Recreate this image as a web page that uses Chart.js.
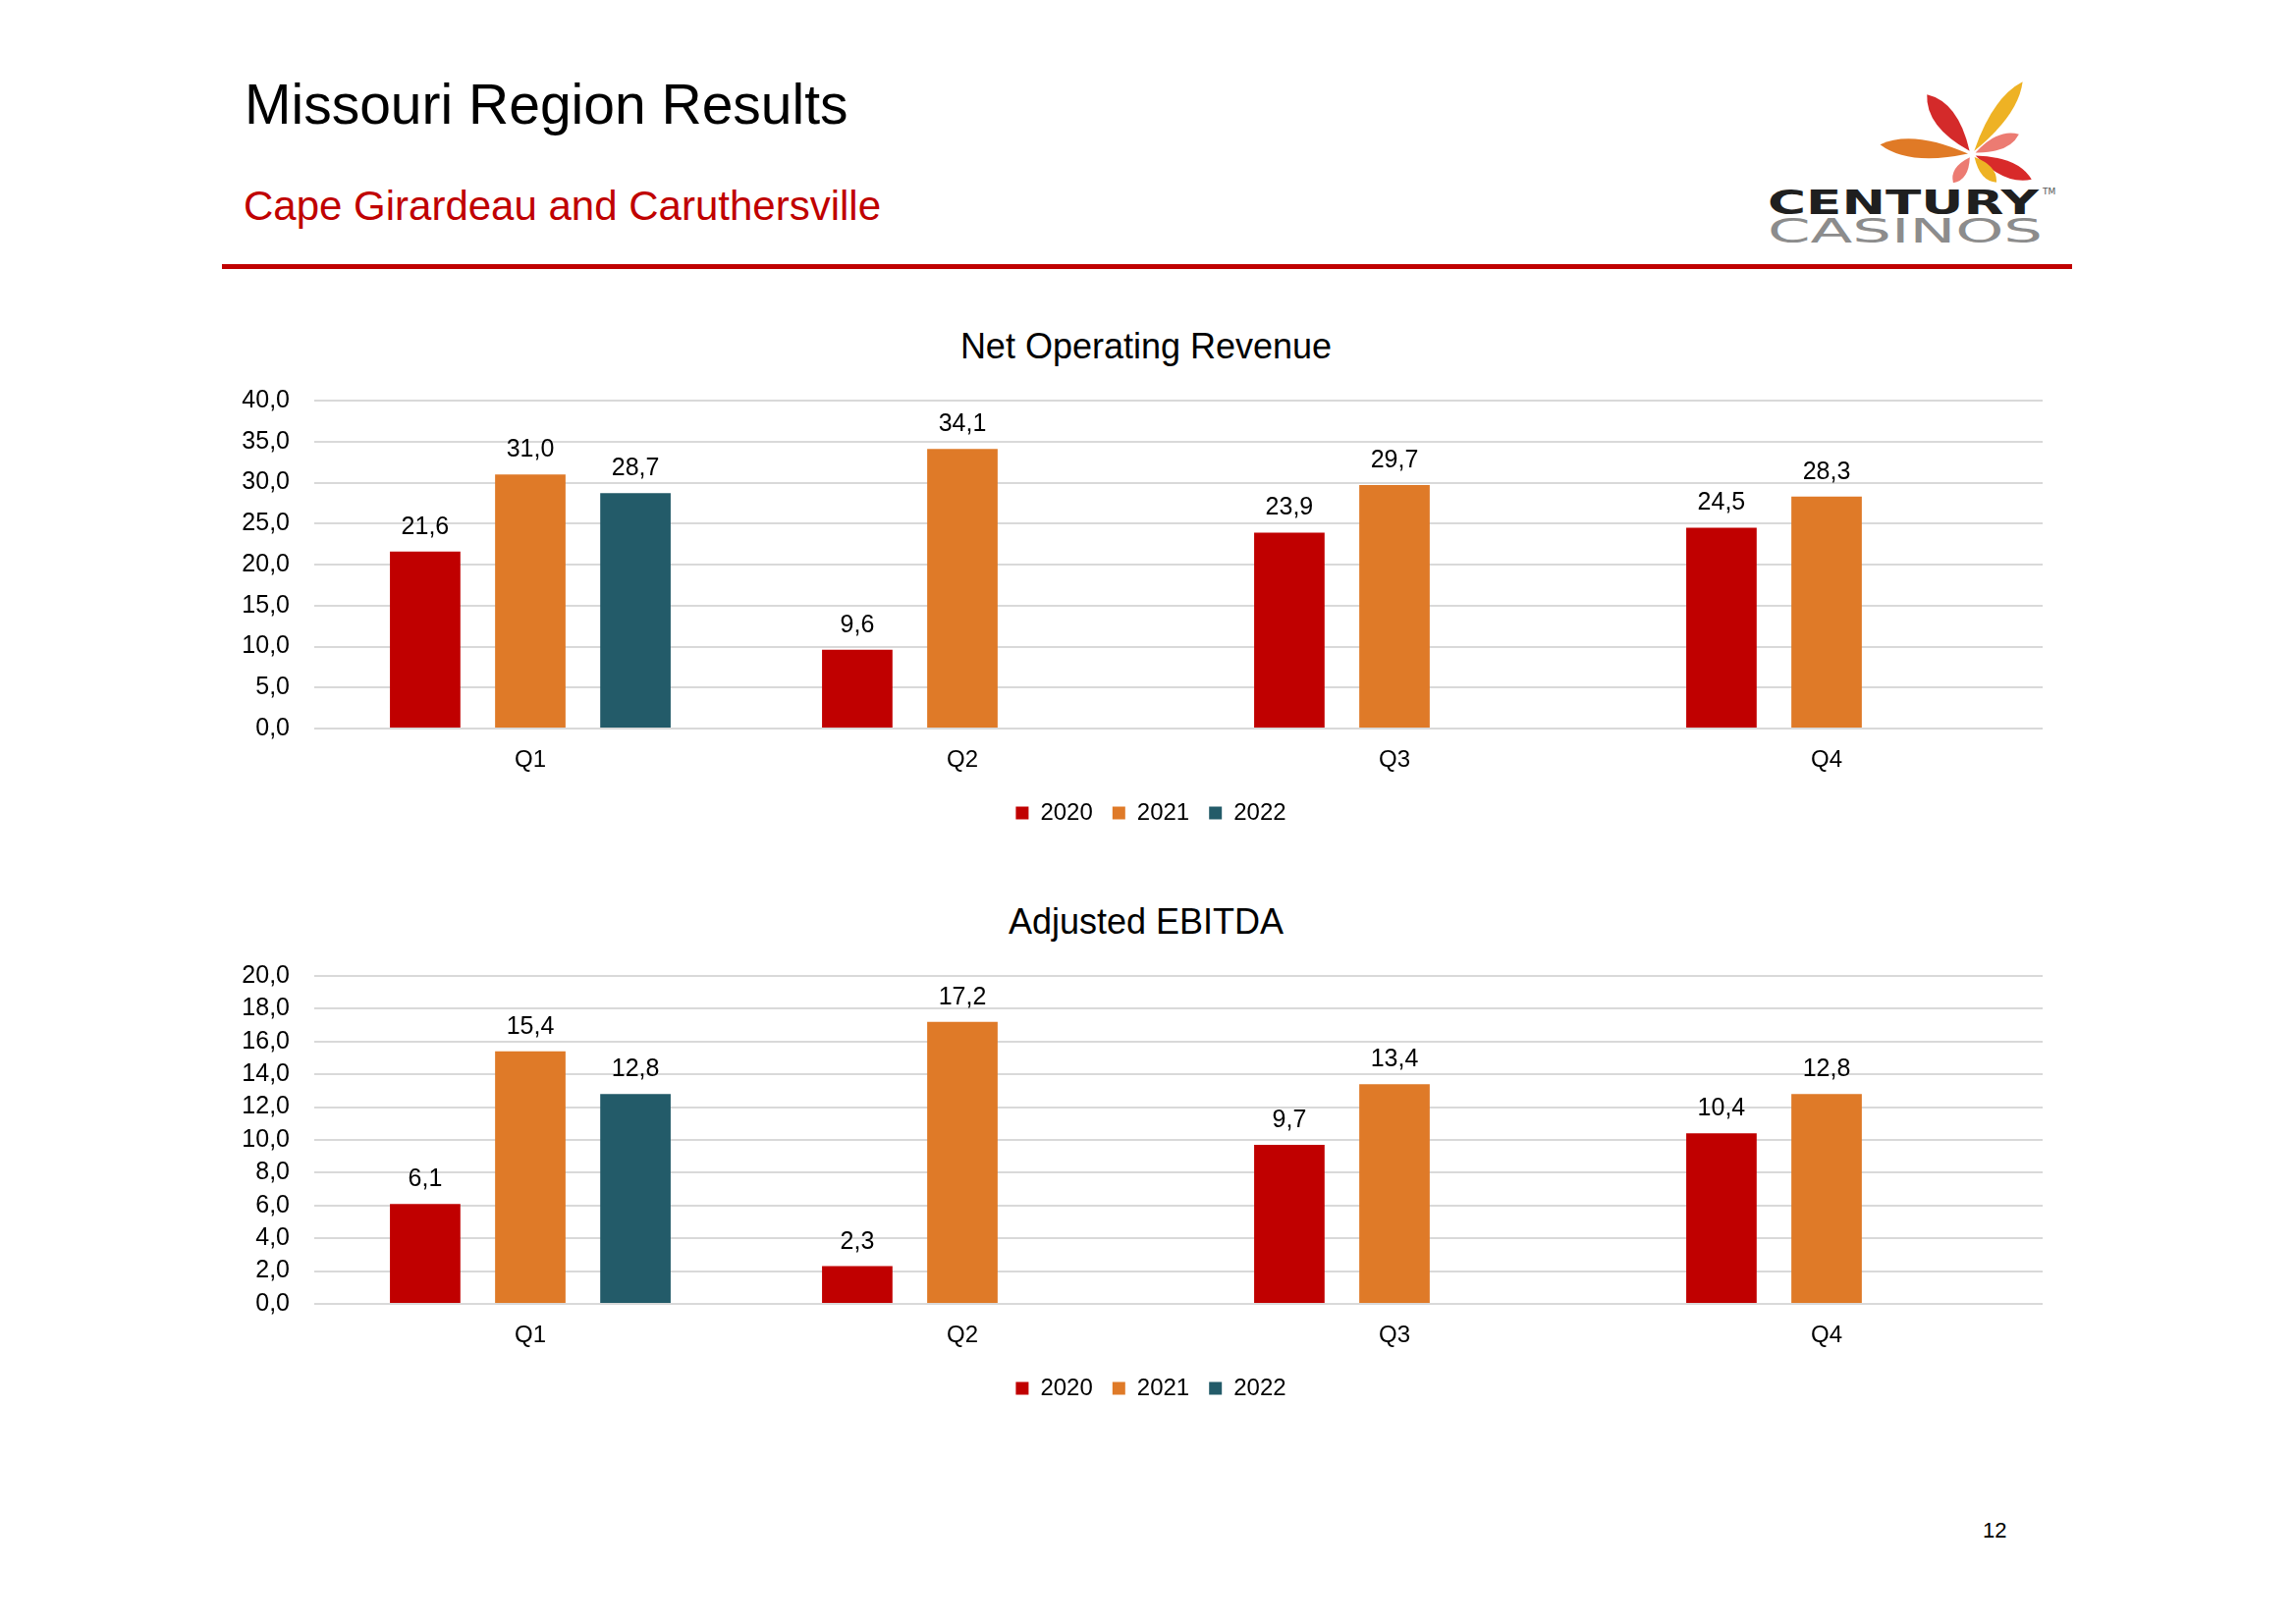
<!DOCTYPE html>
<html>
<head>
<meta charset="utf-8">
<script src="https://cdn.jsdelivr.net/npm/chart.js@4.4.1/dist/chart.umd.min.js"></script>
<style>
  html, body { margin: 0; padding: 0; background: #fff; }
  body { width: 2338px; height: 1653px; position: relative; overflow: hidden; font-family: "Liberation Sans", Arial, sans-serif; }
  .title { position: absolute; left: 249px; top: 78px; font-size: 57px; color: #000; line-height: 1; white-space: nowrap; }
  .subtitle { position: absolute; left: 248px; top: 189px; font-size: 42px; color: #c00000; line-height: 1; white-space: nowrap; }
  .rule { position: absolute; left: 226px; top: 269px; width: 1884px; height: 5px; background: #c00000; }
  .logo { position: absolute; left: 1780px; top: 70px; }
  .chart-title { position: absolute; left: 867px; width: 600px; text-align: center; font-size: 36px; line-height: 1; color: #000; }
  .chart-box { position: absolute; left: 230px; width: 1870px; height: 482px; }
  .page-no { position: absolute; left: 2019px; top: 1548px; font-size: 22px; line-height: 1; color: #000; }
</style>
</head>
<body>
<div class="title">Missouri Region Results</div>
<div class="subtitle">Cape Girardeau and Caruthersville</div>
<div class="rule"></div>

<svg class="logo" width="340" height="190" viewBox="1780 70 340 190" xmlns="http://www.w3.org/2000/svg">
  <g id="petals"></g>
  <text x="1800" y="218" font-family="DejaVu Sans" font-weight="bold" font-size="34" fill="#1f1f1f" textLength="276" lengthAdjust="spacingAndGlyphs">CENTURY</text>
  <text x="2080" y="198" font-family="DejaVu Sans" font-size="9" fill="#555">TM</text>
  <text x="1800" y="247" font-family="DejaVu Sans" font-size="33" fill="#8c8c8c" textLength="280" lengthAdjust="spacingAndGlyphs">CASINOS</text>
</svg>

<div class="chart-title" style="top:335px">Net Operating Revenue</div>
<div class="chart-box" style="top:368px"><canvas id="revenue"></canvas></div>

<div class="chart-title" style="top:921px">Adjusted EBITDA</div>
<div class="chart-box" style="top:954px"><canvas id="ebitda"></canvas></div>

<div class="page-no">12</div>

<script>
// quarters and series
const quarters = ['Q1', 'Q2', 'Q3', 'Q4'];
const years = ['2020', '2021', '2022'];

const revenue2020 = [21.6, 9.6, 23.9, 24.5];
const revenue2021 = [31.0, 34.1, 29.7, 28.3];
const revenue2022 = [28.7, null, null, null];

const ebitda2020 = [6.1, 2.3, 9.7, 10.4];
const ebitda2021 = [15.4, 17.2, 13.4, 12.8];
const ebitda2022 = [12.8, null, null, null];

const revenueTicks = { max: 40, step: 5 };
const ebitdaTicks = { max: 20, step: 2 };

const COLORS = ['#c00000', '#df7a28', '#235b69'];
const FONT = '"Liberation Sans", Arial, sans-serif';

// logo petals: [angle deg, length, width, color]
const petals = [
  [-127, 72, 21, '#d42a2a'],
  [-55, 86, 16, '#eeb224'],
  [-174, 90, 19, '#e07a26'],
  [-23, 48, 14, '#ec7b72'],
  [23, 62, 16, '#d82a2a'],
  [123, 31, 12, '#ec7b72'],
  [49, 34, 12, '#eeb224'],
];
(function drawPetals() {
  const g = document.getElementById('petals');
  const cx = 2008, cy = 157;
  for (const [deg, len, w, color] of petals) {
    const a = deg * Math.PI / 180;
    const ux = Math.cos(a), uy = Math.sin(a);
    const px = -uy, py = ux;
    const s = 4;
    const x0 = cx + ux * s, y0 = cy + uy * s;
    const x1 = cx + ux * (s + len), y1 = cy + uy * (s + len);
    const mx = cx + ux * (s + len * 0.65), my = cy + uy * (s + len * 0.65);
    const d = `M${x0},${y0} Q${mx + px * w},${my + py * w} ${x1},${y1} Q${mx - px * w},${my - py * w} ${x0},${y0} Z`;
    const p = document.createElementNS('http://www.w3.org/2000/svg', 'path');
    p.setAttribute('d', d);
    p.setAttribute('fill', color);
    g.appendChild(p);
  }
})();

function fmt(v) {
  return v.toFixed(1).replace('.', ',');
}

const valueLabels = {
  id: 'valueLabels',
  afterDatasetsDraw(chart) {
    const ctx = chart.ctx;
    ctx.save();
    ctx.font = `25px ${FONT}`;
    ctx.fillStyle = '#000';
    ctx.textAlign = 'center';
    ctx.textBaseline = 'alphabetic';
    chart.data.datasets.forEach((ds, i) => {
      chart.getDatasetMeta(i).data.forEach((bar, j) => {
        const v = ds.data[j];
        if (v == null) return;
        ctx.fillText(fmt(v), bar.x, bar.y - 18);
      });
    });
    ctx.restore();
  },
};

// the slide's legend sits a little right of the canvas centre
const legendShift = {
  id: 'legendShift',
  afterLayout(chart, args, opts) {
    const lg = chart.legend;
    if (!lg) return;
    lg.left += opts.dx;
    lg.right += opts.dx;
  },
};

function buildChart(id, series, ticks) {
  return new Chart(document.getElementById(id), {
    type: 'bar',
    data: {
      labels: quarters,
      datasets: series.map((data, i) => ({
        label: years[i],
        data,
        backgroundColor: COLORS[i],
        borderWidth: 0,
        categoryPercentage: 0.73,
        barPercentage: 0.67,
      })),
    },
    options: {
      responsive: true,
      maintainAspectRatio: false,
      animation: false,
      // top gap comes from the y labels (half label height + tick padding = 40px)
      layout: { padding: { left: 0, right: 20, top: 0, bottom: 0 } },
      plugins: {
        title: { display: false },
        legend: {
          position: 'bottom',
          labels: {
            color: '#000',
            font: { family: FONT, size: 24 },
            boxWidth: 13,
            boxHeight: 13,
            padding: 20,
          },
        },
        legendShift: { dx: 17 },
        tooltip: { enabled: false },
      },
      scales: {
        x: {
          grid: { display: false, drawTicks: false },
          border: { display: false },
          ticks: { color: '#000', font: { family: FONT, size: 24 }, padding: 18 },
          afterFit(scale) { scale.height = 54; },
        },
        y: {
          min: 0,
          max: ticks.max,
          grid: { color: '#d9d9d9', lineWidth: 2, drawTicks: false },
          border: { display: false },
          ticks: {
            stepSize: ticks.step,
            autoSkip: false,
            color: '#000',
            font: { family: FONT, size: 25 },
            padding: 25,
            callback: (v) => fmt(v),
          },
          afterFit(scale) { scale.width = 90; },
        },
      },
    },
    plugins: [valueLabels, legendShift],
  });
}

buildChart('revenue', [revenue2020, revenue2021, revenue2022], revenueTicks);
buildChart('ebitda', [ebitda2020, ebitda2021, ebitda2022], ebitdaTicks);
</script>
</body>
</html>
